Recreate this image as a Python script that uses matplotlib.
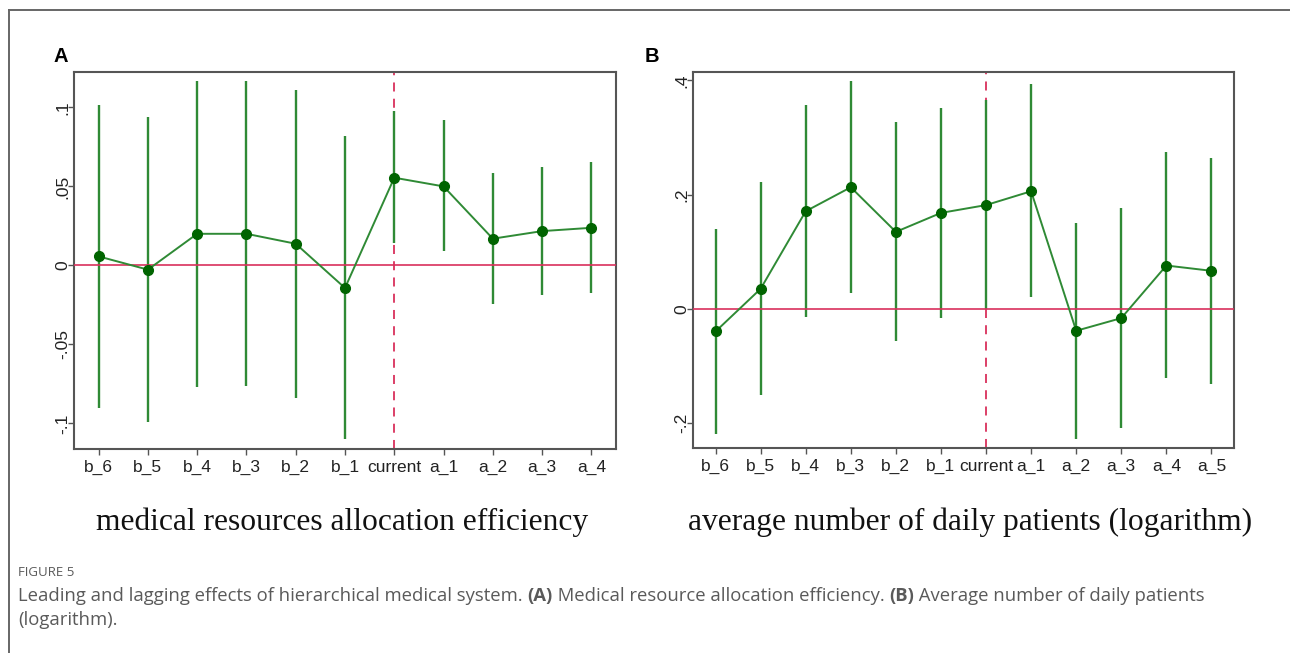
import matplotlib
matplotlib.use("Agg")
import matplotlib.pyplot as plt
from matplotlib.lines import Line2D

# panel A: medical resources allocation efficiency
labels_a = ["b_6", "b_5", "b_4", "b_3", "b_2", "b_1", "current", "a_1", "a_2", "a_3", "a_4"]
coef_a = [0.0057, -0.0027, 0.0200, 0.0200, 0.0137, -0.0143, 0.0555, 0.0500, 0.0169, 0.0217, 0.0238]
hi_a = [0.1013, 0.0939, 0.1165, 0.1165, 0.1112, 0.0821, 0.0975, 0.0918, 0.0584, 0.0624, 0.0652]
lo_a = [-0.0901, -0.0992, -0.0768, -0.0766, -0.0842, -0.1101, 0.0142, 0.0089, -0.0245, -0.0188, -0.0175]
yticks_a = [-0.1, -0.05, 0, 0.05, 0.1]
yticklabels_a = ["-.1", "-.05", "0", ".05", ".1"]

# panel B: average number of daily patients (logarithm)
labels_b = ["b_6", "b_5", "b_4", "b_3", "b_2", "b_1", "current", "a_1", "a_2", "a_3", "a_4", "a_5"]
coef_b = [-0.0397, 0.0350, 0.1708, 0.2128, 0.1347, 0.1679, 0.1816, 0.2058, -0.0385, -0.0163, 0.0758, 0.0665]
hi_b = [0.1405, 0.2216, 0.3563, 0.3983, 0.3265, 0.3516, 0.3662, 0.3930, 0.1510, 0.1761, 0.2740, 0.2647]
lo_b = [-0.2187, -0.1510, -0.0152, 0.0274, -0.0566, -0.0163, -0.0010, 0.0198, -0.2274, -0.2093, -0.1213, -0.1312]
yticks_b = [-0.2, 0, 0.2, 0.4]
yticklabels_b = ["-.2", "0", ".2", ".4"]

GREEN = "#2f8a35"
DOT = "#006400"
RED = "#d9305c"
SPINE = "#555555"
TICKFONT = ["Liberation Sans Narrow", "Liberation Sans", "DejaVu Sans"]

fig = plt.figure(figsize=(12.90, 6.53), dpi=100)

# outer frame of the figure (top and left edge)
fig.add_artist(Line2D([9 / 1290, 1], [1 - 10 / 653, 1 - 10 / 653], color="#666666", lw=1.4))
fig.add_artist(Line2D([9 / 1290, 9 / 1290], [0, 1 - 10 / 653], color="#666666", lw=1.4))


def panel(rect, labels, coef, lo, hi, yticks, yticklabels, ylim):
    ax = fig.add_axes(rect)
    x = list(range(len(labels)))
    cur = labels.index("current")
    ax.axvline(cur, color=RED, lw=1.3, ls=(0, (5, 4)), zorder=1)
    ax.vlines(x, lo, hi, color=GREEN, lw=1.7, zorder=2)
    ax.axhline(0, color=RED, lw=1.2, zorder=3)
    ax.plot(x, coef, color=GREEN, lw=1.4, zorder=4)
    ax.plot(x, coef, "o", color=DOT, ms=7, zorder=5)
    ax.set_xlim(-0.5, len(labels) - 0.5)
    ax.set_ylim(*ylim)
    ax.set_xticks(x)
    ax.set_xticklabels(labels, family=TICKFONT, fontsize=12.5, color="#222222")
    ax.set_yticks(yticks)
    ax.set_yticklabels(yticklabels, family=TICKFONT, fontsize=12.5, color="#222222",
                       rotation=90, va="center")
    ax.tick_params(axis="both", length=4, width=1, color=SPINE)
    ax.tick_params(axis="x", pad=4)
    ax.tick_params(axis="y", pad=-1.5)
    for s in ax.spines.values():
        s.set_color(SPINE)
        s.set_linewidth(1.5)
    return ax


ax_a = panel([74 / 1290, 1 - 449 / 653, 542 / 1290, 377 / 653],
             labels_a, coef_a, lo_a, hi_a, yticks_a, yticklabels_a, (-0.1162, 0.1224))
ax_b = panel([693 / 1290, 1 - 448 / 653, 541 / 1290, 376 / 653],
             labels_b, coef_b, lo_b, hi_b, yticks_b, yticklabels_b, (-0.2437, 0.4146))

# panel letters
fig.text(53 / 1290, 1 - 57 / 653, "A", fontsize=14.5, fontweight="bold",
         family="Liberation Sans", va="center", ha="left")
fig.text(645 / 1290, 1 - 57 / 653, "B", fontsize=14.5, fontweight="bold",
         family="Liberation Sans", va="center", ha="left")

# panel titles (serif)
fig.text(342 / 1290, 1 - 522 / 653, "medical resources allocation efficiency",
         family="Liberation Serif", fontsize=22.7, ha="center", va="center", color="#111111")
fig.text(970 / 1290, 1 - 522 / 653, "average number of daily patients (logarithm)",
         family="Liberation Serif", fontsize=22.7, ha="center", va="center", color="#111111")

# caption
CAP = "#5a5a5a"
fig.text(18 / 1290, 1 - 573 / 653, "FIGURE 5", family="Open Sans", fontsize=9.5,
         color=CAP, va="center", ha="left")

pieces = [
    ("Leading and lagging effects of hierarchical medical system. ", "normal"),
    ("(A)", "bold"),
    (" Medical resource allocation efficiency. ", "normal"),
    ("(B)", "bold"),
    (" Average number of daily patients", "normal"),
]
fig.canvas.draw()
renderer = fig.canvas.get_renderer()
xpos = 18
for txt, w in pieces:
    t = fig.text(xpos / 1290, 1 - 596 / 653, txt, family="Open Sans", fontsize=13.3,
                 fontweight=w, color=CAP, va="center", ha="left")
    xpos += t.get_window_extent(renderer).width
fig.text(18 / 1290, 1 - 620 / 653, "(logarithm).", family="Open Sans", fontsize=13.3,
         color=CAP, va="center", ha="left")

fig.savefig("out.png", dpi=100)
